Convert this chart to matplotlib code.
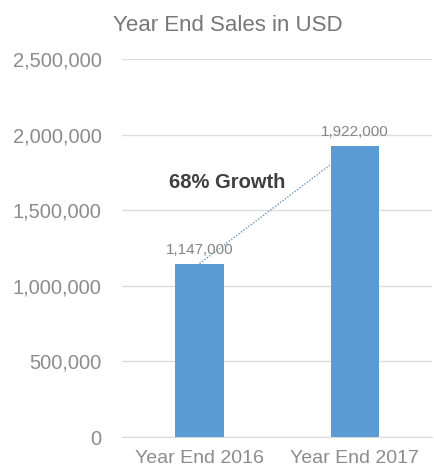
import matplotlib.pyplot as plt
from matplotlib.ticker import FuncFormatter

categories = ["Year End 2016", "Year End 2017"]
sales = [1147000, 1922000]
yticks = [0, 500000, 1000000, 1500000, 2000000, 2500000]

plt.rcParams['font.family'] = ['Liberation Sans', 'DejaVu Sans']

fig = plt.figure(figsize=(4.34, 4.70), dpi=100)
ax = fig.add_axes([0.281, 0.0702, 0.715, 0.8043])

x = list(range(len(categories)))

# growth line between bar tops, hidden behind the bars
ax.plot(x, sales, linestyle=(0, (1, 1.2)), color="#6b98c4", linewidth=1.0, zorder=2)
ax.bar(x, sales, width=0.31, color="#5b9bd5", zorder=3)

for xi, v in zip(x, sales):
    ax.annotate(f"{v:,}", (xi, v), xytext=(0, 5), textcoords="offset points",
                ha="center", va="bottom", fontsize=11, color="#858585")

growth = round((sales[1] - sales[0]) / sales[0] * 100)
ax.text(0.18, 1680000, f"{growth}% Growth", ha="center", va="center",
        fontsize=14.5, fontweight="bold", color="#3f3f3f")

ax.set_xlim(-0.5, 1.5)
ax.set_ylim(0, 2500000)
ax.set_yticks(yticks)
ax.yaxis.set_major_formatter(FuncFormatter(lambda v, p: f"{int(v):,}"))
ax.set_xticks(x)
ax.set_xticklabels(categories)
ax.tick_params(axis="y", length=0, pad=14.5, labelsize=14.5, labelcolor="#8c8c8c")
ax.tick_params(axis="x", length=0, pad=9, labelsize=14, labelcolor="#8c8c8c")

ax.grid(axis="y", color="#dcdcdc", linewidth=1.0, zorder=0)
ax.set_axisbelow(True)
for s in ["top", "right", "left"]:
    ax.spines[s].set_visible(False)
ax.spines["bottom"].set_color("#dcdcdc")

fig.text(0.525, 0.945, "Year End Sales in USD", ha="center", va="center",
         fontsize=16, color="#777777")

fig.savefig("out.png", dpi=100)
